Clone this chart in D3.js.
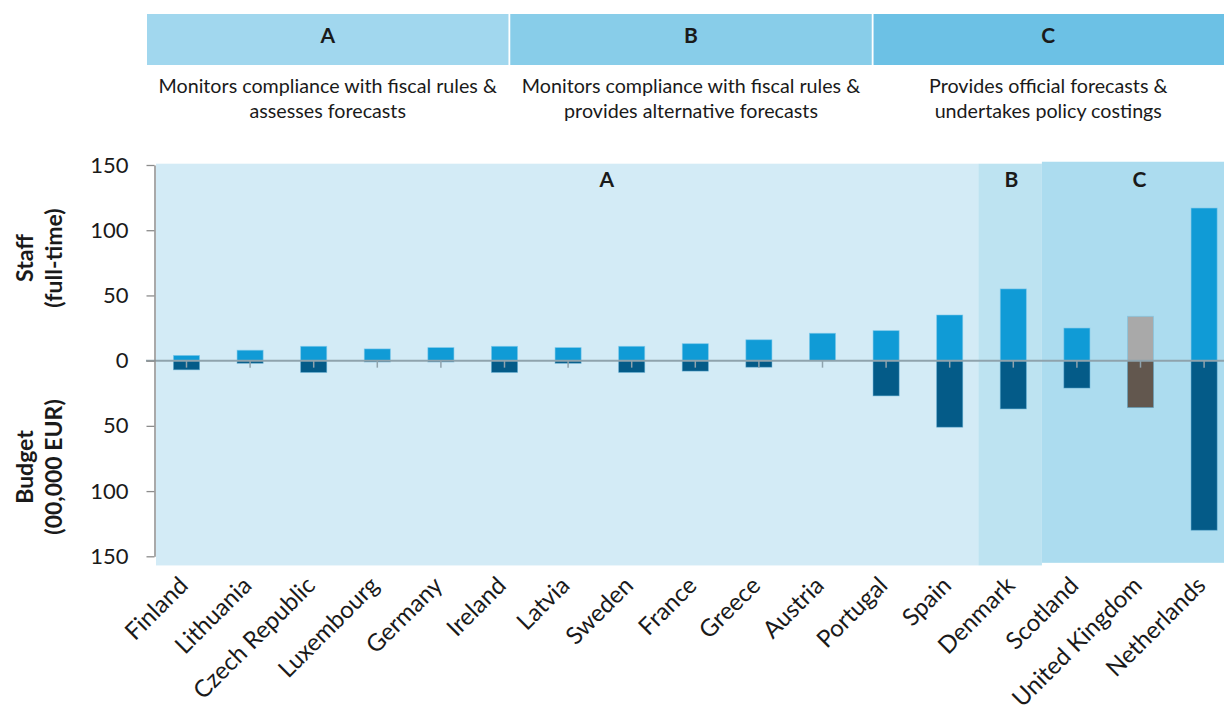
<!DOCTYPE html>
<html>
<head>
<meta charset="utf-8">
<script src="https://cdn.jsdelivr.net/npm/d3@7"></script>
<style>
  html, body { margin: 0; padding: 0; background: #fff; }
  svg { display: block; font-family: Lato, "Open Sans", sans-serif; }
</style>
</head>
<body>
<svg id="chart" width="1224" height="713"></svg>
<script>
// Independent fiscal institutions: staff and budget by country
const countries = ["Finland", "Lithuania", "Czech Republic", "Luxembourg", "Germany", "Ireland",
  "Latvia", "Sweden", "France", "Greece", "Austria", "Portugal", "Spain", "Denmark",
  "Scotland", "United Kingdom", "Netherlands"];
const staff  = [4, 8, 11, 9, 10, 11, 10, 11, 13, 16, 21, 23, 35, 55, 25, 34, 117];
const budget = [7, 2, 9, 1, 1, 9, 2, 9, 8, 5, 0, 27, 51, 37, 21, 36, 130];
const mandateGroup = ["A", "A", "A", "A", "A", "A", "A", "A", "A", "A", "A", "A", "A", "B", "C", "C", "C"];
const yTicks = [-150, -100, -50, 0, 50, 100, 150];

const groupKeys = ["A", "B", "C"];
const groupTitles = [
  ["Monitors compliance with fiscal rules &", "assesses forecasts"],
  ["Monitors compliance with fiscal rules &", "provides alternative forecasts"],
  ["Provides official forecasts &", "undertakes policy costings"]
];

const svg = d3.select("#chart");
const W = 1224;

// ---- header boxes ----
const headerColors = ["#a1d7ee", "#88cde9", "#6cc1e5"];
const headerX = d3.scaleBand().domain(groupKeys).range([147, 1235]).paddingInner(0.005);
const header = svg.append("g");
groupKeys.forEach((k, i) => {
  const x0 = headerX(k), bw = headerX.bandwidth();
  header.append("rect").attr("x", x0).attr("y", 14).attr("width", Math.min(bw, W - x0)).attr("height", 51)
    .attr("fill", headerColors[i]);
  const cx = x0 + bw / 2 - (i === 2 ? 6 : 0);
  header.append("text").attr("x", cx).attr("y", 43).attr("text-anchor", "middle")
    .attr("font-size", 21).attr("font-weight", 700).attr("fill", "#1a1a1a").text(k);
  groupTitles[i].forEach((line, j) => {
    header.append("text").attr("x", cx).attr("y", 93 + j * 25).attr("text-anchor", "middle")
      .attr("font-size", 19.7).attr("fill", "#1a1a1a").text(line);
  });
});

// ---- scales ----
const y = d3.scaleLinear().domain([-150, 150]).range([556.3, 165]);
const step = 63.6;
const x = d3.scaleBand().domain(countries).range([154.7, 154.7 + step * countries.length])
  .paddingInner(0.59).paddingOuter(0.295);
const cx = c => x(c) + x.bandwidth() / 2;

// ---- mandate regions in plot ----
const regionFill = { A: "#d3ebf6", B: "#bde3f1", C: "#acdcef" };
const regions = groupKeys.map(k => {
  const members = countries.filter((c, i) => mandateGroup[i] === k);
  return { key: k, first: members[0], last: members[members.length - 1] };
});
const regionG = svg.append("g");
regions.forEach((r, i) => {
  const x0 = i === 0 ? 156 : cx(r.first) - 35;
  const x1 = i === regions.length - 1 ? W : cx(countries[countries.indexOf(r.last) + 1]) - 35;
  const top = r.key === "C" ? y(152.5) : y(151);
  const bot = r.key === "C" ? y(-155) : y(-157);
  regionG.append("rect").attr("x", x0).attr("y", top).attr("width", x1 - x0).attr("height", bot - top)
    .attr("fill", regionFill[r.key]);
});
const regionLabelX = { A: (cx("Latvia") + cx("Sweden")) / 2 + 7, B: cx("Denmark") - 2, C: cx("United Kingdom") - 1 };
regions.forEach(r => {
  svg.append("text").attr("x", regionLabelX[r.key]).attr("y", y(133)).attr("text-anchor", "middle")
    .attr("font-size", 21).attr("font-weight", 700).attr("fill", "#1a1a1a").text(r.key);
});

// ---- bars ----
const staffColor = c => c === "United Kingdom" ? "#a9a9a9" : "#109bd6";
const budgetColor = c => c === "United Kingdom" ? "#62574e" : "#045b88";
const bars = svg.append("g");
bars.selectAll("rect.staff").data(countries).join("rect").attr("class", "staff")
  .attr("x", c => x(c)).attr("width", x.bandwidth())
  .attr("y", (c, i) => y(staff[i])).attr("height", (c, i) => y(0) - y(staff[i]))
  .attr("fill", staffColor).attr("stroke", "#7cc8ea").attr("stroke-width", 0.8).attr("stroke-opacity", 0.7);
bars.selectAll("rect.budget").data(countries).join("rect").attr("class", "budget")
  .attr("x", c => x(c)).attr("width", x.bandwidth())
  .attr("y", y(0)).attr("height", (c, i) => y(-budget[i]) - y(0))
  .attr("fill", budgetColor).attr("stroke", "#5aa9cf").attr("stroke-width", 0.8).attr("stroke-opacity", 0.6);

// ---- zero line and category ticks ----
svg.append("line").attr("x1", 146).attr("x2", W).attr("y1", y(0)).attr("y2", y(0))
  .attr("stroke", "#8fa3ad").attr("stroke-width", 2);
svg.append("g").selectAll("line").data(countries).join("line")
  .attr("x1", cx).attr("x2", cx).attr("y1", y(0)).attr("y2", y(0) + 7)
  .attr("stroke", "#8fa3ad").attr("stroke-width", 1.5);

// ---- y axis ----
const yAxis = svg.append("g").attr("transform", "translate(154.5,0)")
  .call(d3.axisLeft(y).tickValues(yTicks).tickFormat(d => Math.abs(d)).tickSize(8).tickSizeOuter(0));
yAxis.select(".domain").attr("stroke", "#8c8c8c").attr("stroke-width", 1.5);
yAxis.selectAll(".tick line").attr("stroke", "#8c8c8c").attr("stroke-width", 1.3);
yAxis.selectAll(".tick text").attr("font-size", 22).attr("fill", "#1a1a1a").attr("x", -26)
  .attr("font-family", "Lato, sans-serif");

// ---- y axis titles ----
function vTitle(lines, cy) {
  const g = svg.append("g").attr("transform", `translate(0,${cy})`);
  lines.forEach((t, j) => {
    g.append("text").attr("transform", `translate(${33 + j * 29},0) rotate(-90)`)
      .attr("text-anchor", "middle").attr("font-size", 23).attr("font-weight", 700)
      .attr("fill", "#1a1a1a").text(t);
  });
}
vTitle(["Staff", "(full-time)"], 258);
vTitle(["Budget", "(00,000 EUR)"], 467);

// ---- category labels ----
svg.append("g").selectAll("text").data(countries).join("text")
  .attr("transform", c => `translate(${cx(c) + 3},${587}) rotate(-45)`)
  .attr("text-anchor", "end").attr("font-size", 24).attr("fill", "#1a1a1a").text(c => c);
</script>
</body>
</html>
